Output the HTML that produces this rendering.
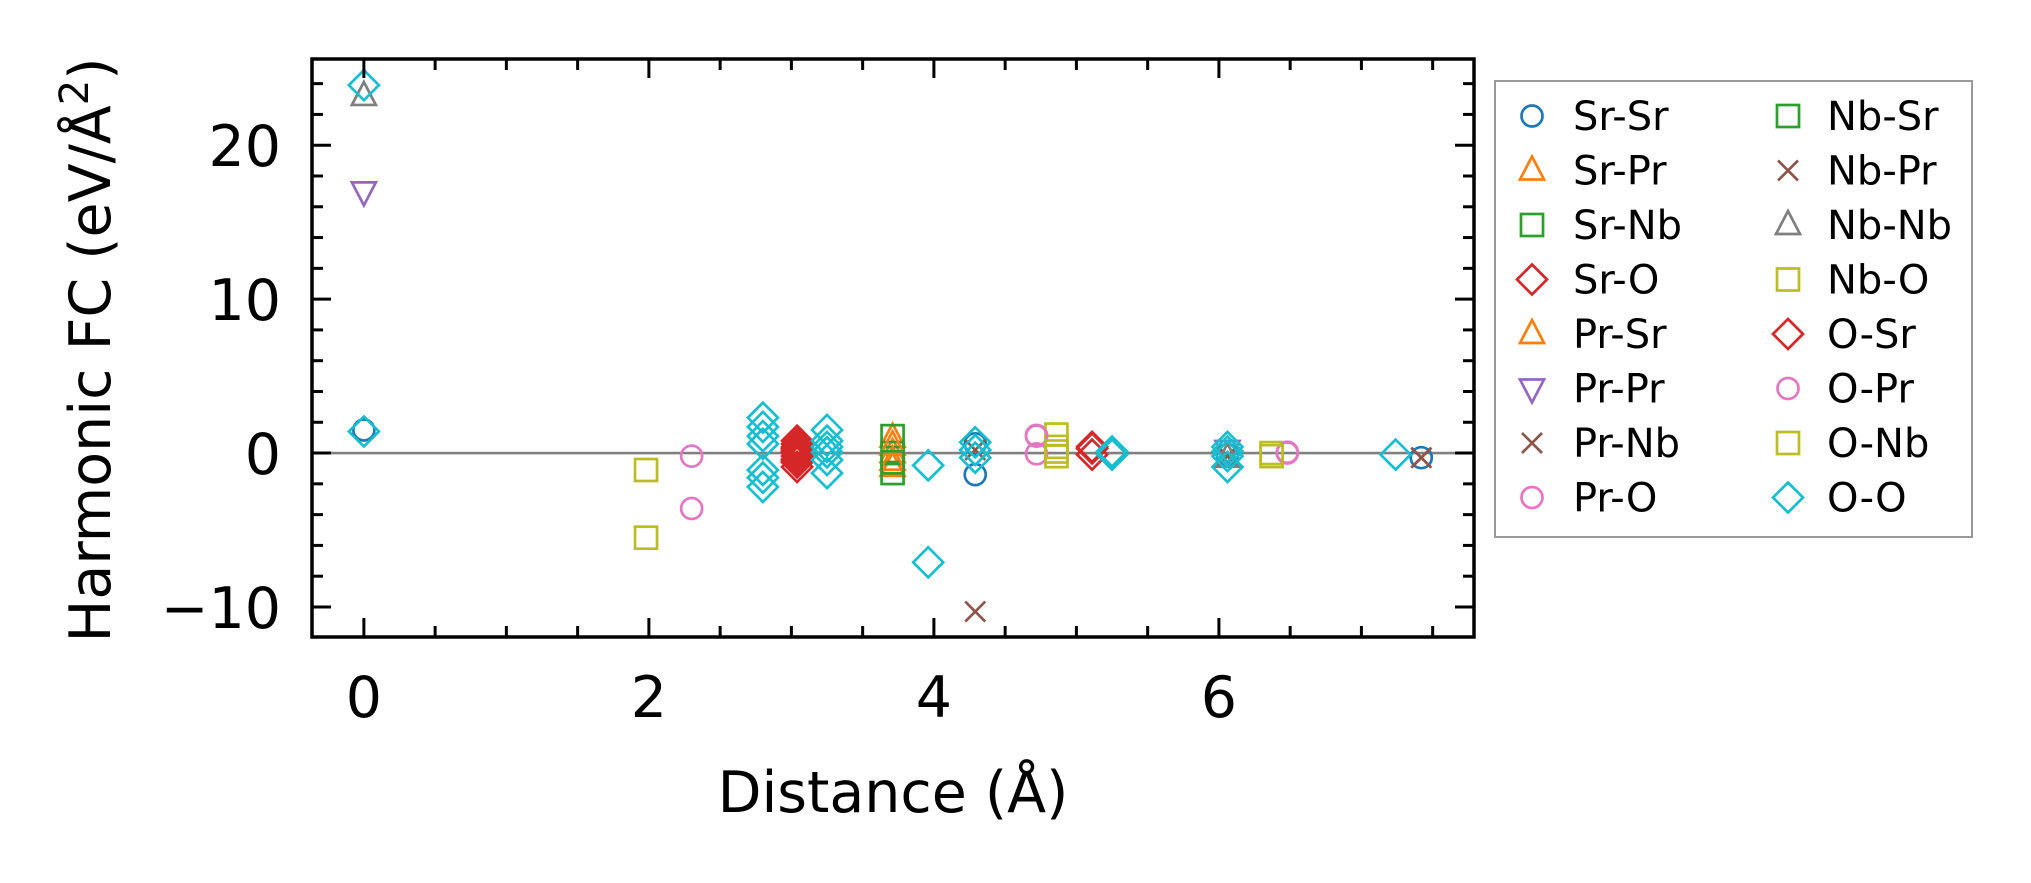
<!DOCTYPE html>
<html><head><meta charset="utf-8"><style>
html,body{margin:0;padding:0;background:#fff;}
svg{display:block;font-family:"DejaVu Sans","Liberation Sans",sans-serif;}
</style></head><body>
<svg id="chart" width="2031" height="883" viewBox="0 0 2031 883" xmlns="http://www.w3.org/2000/svg">
<g id="plot"></g>
<g id="axes"></g>
<g id="legend"></g>
</svg>
<script>
const seriesNames = ["Sr-Sr","Sr-Pr","Sr-Nb","Sr-O","Pr-Sr","Pr-Pr","Pr-Nb","Pr-O","Nb-Sr","Nb-Pr","Nb-Nb","Nb-O","O-Sr","O-Pr","O-Nb","O-O"];
const xSrSr=[0,4.29,4.29,6.06,7.42]; const ySrSr=[1.5,0.6,-1.4,-0.1,-0.3];
const xSrPr=[3.71,3.71,3.71]; const ySrPr=[1.0,0.0,-0.9];
const xSrNb=[3.71,3.71,3.71]; const ySrNb=[1.1,0.0,-1.3];
const xSrO=[3.04,3.04,3.04,3.04,3.04,3.04,3.04,3.04,3.04,3.04,5.11,5.11]; const ySrO=[0.8,0.6,0.4,0.2,0.1,0,-0.2,-0.4,-0.6,-0.9,0.4,-0.1];
const xPrSr=[3.71,3.71]; const yPrSr=[0.5,-0.5];
const xPrPr=[0,6.06]; const yPrPr=[17.0,0.2];
const xPrNb=[4.29,6.06,7.42]; const yPrNb=[0.2,-0.2,-0.3];
const xPrO=[2.30,2.30,4.72,4.72,6.48]; const yPrO=[-0.2,-3.6,1.15,-0.05,0.05];
const xNbSr=[3.71]; const yNbSr=[-0.6];
const xNbPr=[4.29,7.42]; const yNbPr=[-10.3,-0.3];
const xNbNb=[0,6.06]; const yNbNb=[23.2,-0.3];
const xNbO=[1.98,1.98,4.86,4.86,4.86,6.37]; const yNbO=[-1.1,-5.5,1.2,0.4,-0.2,0.0];
const xOSr=[3.04,3.04,5.11]; const yOSr=[0.3,-0.5,0.3];
const xOPr=[4.72,6.48]; const yOPr=[1.1,0.0];
const xONb=[4.86,6.37]; const yONb=[0.1,-0.2];
const xOO=[0,0,2.80,2.80,2.80,2.80,2.80,2.80,2.80,3.25,3.25,3.25,3.25,3.25,3.25,3.96,3.96,4.29,4.29,4.29,5.25,5.25,6.06,6.06,6.06,6.06,7.24];
const yOO=[23.9,1.4,2.3,1.7,1.1,0.6,-1.1,-1.6,-2.2,1.5,0.8,0.4,0.05,-0.45,-1.3,-0.8,-7.1,0.7,0.2,-0.3,0.1,-0.1,0.4,0.1,-0.2,-0.9,-0.1];
const xTickLabels=["0","2","4","6"];
const yTickLabels=["\u221210","0","10","20"];
const xTickValues=[0,2,4,6];
const yTickValues=[-10,0,10,20];

const seriesX=[xSrSr,xSrPr,xSrNb,xSrO,xPrSr,xPrPr,xPrNb,xPrO,xNbSr,xNbPr,xNbNb,xNbO,xOSr,xOPr,xONb,xOO];
const seriesY=[ySrSr,ySrPr,ySrNb,ySrO,yPrSr,yPrPr,yPrNb,yPrO,yNbSr,yNbPr,yNbNb,yNbO,yOSr,yOPr,yONb,yOO];
const colors=["#1f77b4","#ff7f0e","#2ca02c","#d62728","#ff7f0e","#9467bd","#8c564b","#e377c2","#2ca02c","#8c564b","#7f7f7f","#bcbd22","#d62728","#e377c2","#bcbd22","#17becf"];
const shapes=["o","^","s","D","^","v","x","o","s","x","^","s","D","o","s","D"];

const L=312,R=1474,T=59,B=637;
const xmin=-0.364,xmax=7.79,ymin=-11.95,ymax=25.6;
const sx=v=>L+(v-xmin)/(xmax-xmin)*(R-L);
const sy=v=>B-(v-ymin)/(ymax-ymin)*(B-T);
const NS="http://www.w3.org/2000/svg";
function mk(tag,attrs,parent){const e=document.createElementNS(NS,tag);for(const k in attrs)e.setAttribute(k,attrs[k]);parent.appendChild(e);return e;}

function marker(shape,cx,cy,color,parent){
  const sw=2.7;let e;
  if(shape==="o") e=mk("circle",{cx:cx,cy:cy,r:10.5,fill:"none",stroke:color,"stroke-width":sw},parent);
  else if(shape==="s") e=mk("rect",{x:cx-11,y:cy-11,width:22,height:22,fill:"none",stroke:color,"stroke-width":sw},parent);
  else if(shape==="D") e=mk("polygon",{points:`${cx},${cy-15} ${cx+15},${cy} ${cx},${cy+15} ${cx-15},${cy}`,fill:"none",stroke:color,"stroke-width":sw},parent);
  else if(shape==="^") e=mk("polygon",{points:`${cx},${cy-14} ${cx+12},${cy+9} ${cx-12},${cy+9}`,fill:"none",stroke:color,"stroke-width":sw},parent);
  else if(shape==="v") e=mk("polygon",{points:`${cx},${cy+14} ${cx+12},${cy-9} ${cx-12},${cy-9}`,fill:"none",stroke:color,"stroke-width":sw},parent);
  else e=mk("path",{d:`M${cx-10},${cy-10}L${cx+10},${cy+10}M${cx-10},${cy+10}L${cx+10},${cy-10}`,fill:"none",stroke:color,"stroke-width":sw},parent);
  return e;
}

const plot=document.getElementById("plot");
const axes=document.getElementById("axes");
const legend=document.getElementById("legend");

const zl=mk("line",{x1:L,x2:R,y1:sy(0),y2:sy(0),stroke:"#808080","stroke-width":2.7},plot);



seriesNames.forEach((name,i)=>{
  const g=mk("g",{},plot);
  
  
  seriesX[i].forEach((xv,j)=>{
    const m=marker(shapes[i],sx(xv),sy(seriesY[i][j]),colors[i],g);
    
    
  });
});

// frame
const fr=mk("rect",{x:L,y:T,width:R-L,height:B-T,fill:"none",stroke:"#000","stroke-width":3.5},axes);



// x ticks
for(let v=0;v<=7.5+1e-9;v+=0.5){
  const major=Math.abs(v%2)<1e-9;const len=major?19:11;const x=sx(v);
  const t1=mk("line",{x1:x,x2:x,y1:B,y2:B-len,stroke:"#000","stroke-width":3},axes);
  
  
  const t2=mk("line",{x1:x,x2:x,y1:T,y2:T+len,stroke:"#000","stroke-width":3},axes);
  
  
}
for(let v=-10;v<=24+1e-9;v+=2){
  const major=Math.abs(v%10)<1e-9;const len=major?19:11;const y=sy(v);
  const t1=mk("line",{x1:L,x2:L+len,y1:y,y2:y,stroke:"#000","stroke-width":3},axes);
  
  
  const t2=mk("line",{x1:R,x2:R-len,y1:y,y2:y,stroke:"#000","stroke-width":3},axes);
  
  
}
xTickValues.forEach((v,i)=>{
  const t=mk("text",{x:sx(v),y:717,"text-anchor":"middle","font-size":57},axes);
  t.textContent=xTickLabels[i];
  
  
});
yTickValues.forEach((v,i)=>{
  const t=mk("text",{x:281,y:sy(v)+21,"text-anchor":"end","font-size":57},axes);
  t.textContent=yTickLabels[i];
  
  
});
const xt=mk("text",{x:893,y:812,"text-anchor":"middle","font-size":57},axes);
xt.textContent="Distance (Å)";


const yt=mk("text",{x:0,y:0,"text-anchor":"middle","font-size":57,transform:"translate(110,350) rotate(-90)"},axes);
yt.innerHTML='Harmonic FC (eV/Å<tspan dy="-22" font-size="40">2</tspan><tspan dy="22">)</tspan>';



// legend
const lb=mk("rect",{x:1495,y:81,width:477,height:456,fill:"#fff",stroke:"#999","stroke-width":2},legend);


seriesNames.forEach((name,i)=>{
  const col=i<8?0:1;const row=i%8;
  const y=116+row*54.5;const mx=col?1788:1532;const tx=col?1827:1573;
  const g=mk("g",{},legend);
  
  
  marker(shapes[i],mx,y,colors[i],g);
  const t=mk("text",{x:tx,y:y+14,"font-size":40},g);
  t.textContent=name;
});
</script>
</body></html>
